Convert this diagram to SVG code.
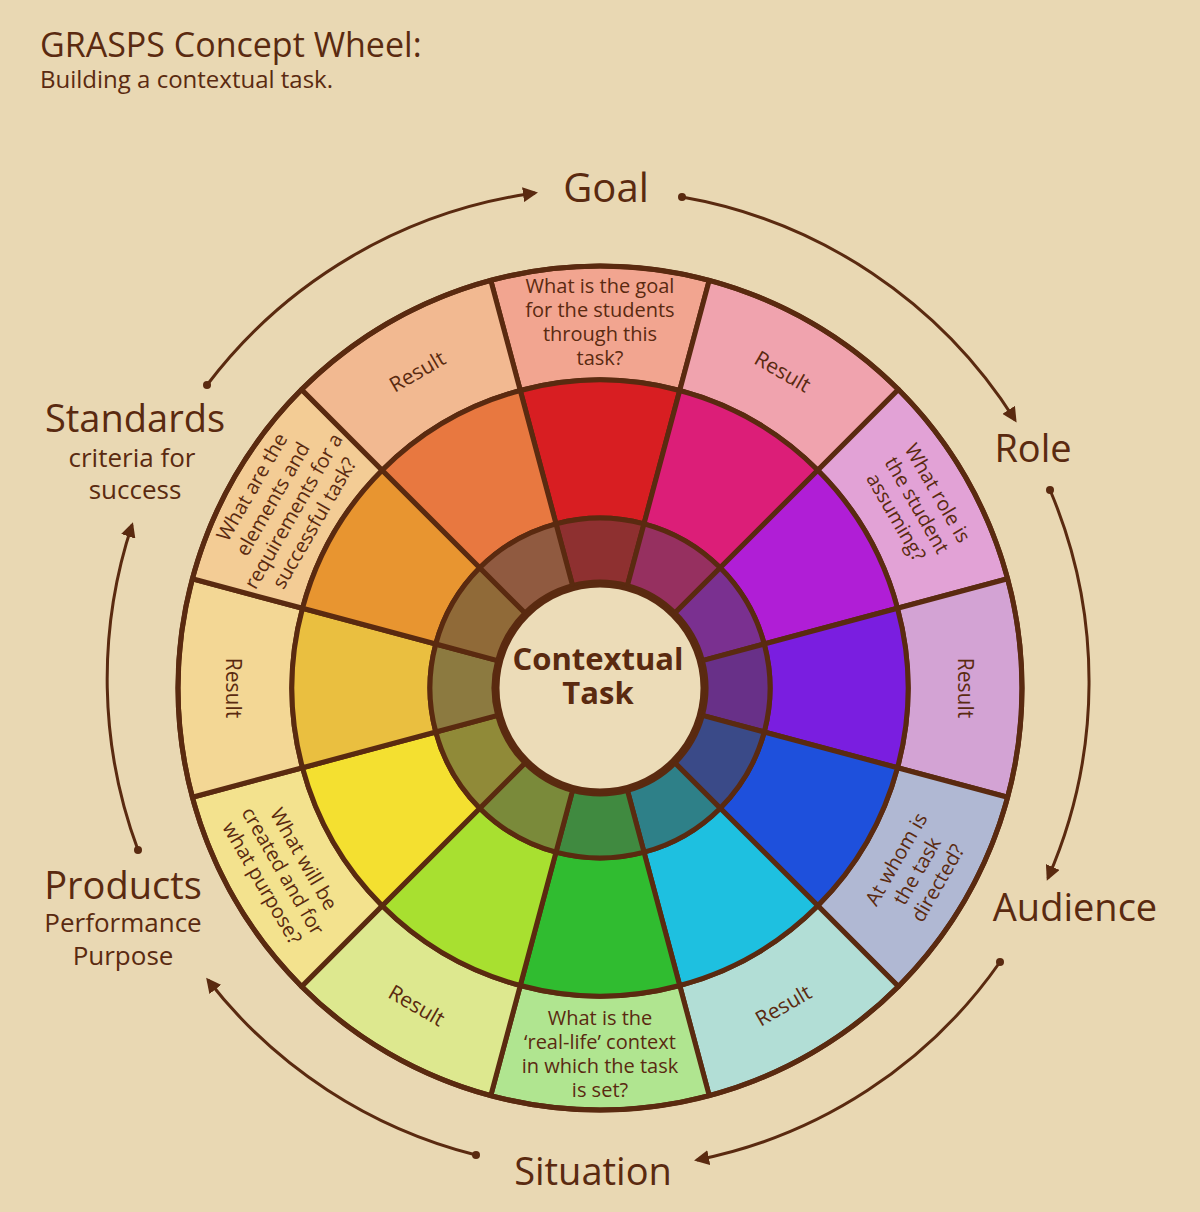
<svg xmlns="http://www.w3.org/2000/svg" xmlns:xlink="http://www.w3.org/1999/xlink" width="1200" height="1212" viewBox="0 0 1200 1212">
<style>
.s{stroke:#5a2a10;stroke-width:5;stroke-linejoin:round}
text{font-family:"Open Sans","Liberation Sans",sans-serif;fill:#5a2a10;text-anchor:middle}
.q{font-size:20px}
.r{font-size:21px}
.big{font-size:38px}
.sub{font-size:26px}
.arc{fill:none;stroke:#5a2a10;stroke-width:3;marker-end:url(#ah)}
</style>
<defs>
<marker id="ah" viewBox="0 0 10 10" refX="8" refY="5" markerWidth="5" markerHeight="5" orient="auto"><path d="M0,0 L10,5 L0,10 Z" fill="#5a2a10"/></marker>
<path id="o" class="s" d="M -109.22 -407.62 A 422 422 0 0 1 109.22 -407.62 L 79.72 -297.51 A 308 308 0 0 0 -79.72 -297.51 Z"/>
<path id="m" class="s" d="M -79.72 -297.51 A 308 308 0 0 1 79.72 -297.51 L 44.0 -164.21 A 170 170 0 0 0 -44.0 -164.21 Z"/>
<path id="i" class="s" d="M -44.0 -164.21 A 170 170 0 0 1 44.0 -164.21 L 27.43 -102.39 A 106 106 0 0 0 -27.43 -102.39 Z"/>
</defs>
<rect width="1200" height="1212" fill="#e9d8b3"/>
<text x="40" y="57" style="font-size:34px;text-anchor:start">GRASPS Concept Wheel:</text>
<text x="40" y="88" style="font-size:24px;text-anchor:start">Building a contextual task.</text>
<g id="wheel" transform="translate(600,688)">
<use xlink:href="#o" fill="#f2a590"/>
<use xlink:href="#o" fill="#f0a3ae" transform="rotate(30)"/>
<use xlink:href="#o" fill="#e2a2d6" transform="rotate(60)"/>
<use xlink:href="#o" fill="#d3a3d4" transform="rotate(90)"/>
<use xlink:href="#o" fill="#b0b8d3" transform="rotate(120)"/>
<use xlink:href="#o" fill="#b2ded6" transform="rotate(150)"/>
<use xlink:href="#o" fill="#b0e590" transform="rotate(180)"/>
<use xlink:href="#o" fill="#dde88f" transform="rotate(210)"/>
<use xlink:href="#o" fill="#f3e28e" transform="rotate(240)"/>
<use xlink:href="#o" fill="#f3d795" transform="rotate(270)"/>
<use xlink:href="#o" fill="#f3cc95" transform="rotate(300)"/>
<use xlink:href="#o" fill="#f2b991" transform="rotate(330)"/>
<use xlink:href="#m" fill="#d81e22"/>
<use xlink:href="#m" fill="#dc1e78" transform="rotate(30)"/>
<use xlink:href="#m" fill="#b01ed6" transform="rotate(60)"/>
<use xlink:href="#m" fill="#7a1ee0" transform="rotate(90)"/>
<use xlink:href="#m" fill="#1e50dc" transform="rotate(120)"/>
<use xlink:href="#m" fill="#1ec0e0" transform="rotate(150)"/>
<use xlink:href="#m" fill="#30bc30" transform="rotate(180)"/>
<use xlink:href="#m" fill="#a8e030" transform="rotate(210)"/>
<use xlink:href="#m" fill="#f4e030" transform="rotate(240)"/>
<use xlink:href="#m" fill="#eabf40" transform="rotate(270)"/>
<use xlink:href="#m" fill="#e89530" transform="rotate(300)"/>
<use xlink:href="#m" fill="#e87840" transform="rotate(330)"/>
<use xlink:href="#i" fill="#8e3030"/>
<use xlink:href="#i" fill="#963060" transform="rotate(30)"/>
<use xlink:href="#i" fill="#7a3090" transform="rotate(60)"/>
<use xlink:href="#i" fill="#683088" transform="rotate(90)"/>
<use xlink:href="#i" fill="#3a4a88" transform="rotate(120)"/>
<use xlink:href="#i" fill="#2e8088" transform="rotate(150)"/>
<use xlink:href="#i" fill="#408a40" transform="rotate(180)"/>
<use xlink:href="#i" fill="#7a8a3a" transform="rotate(210)"/>
<use xlink:href="#i" fill="#908a38" transform="rotate(240)"/>
<use xlink:href="#i" fill="#8c7a40" transform="rotate(270)"/>
<use xlink:href="#i" fill="#906a38" transform="rotate(300)"/>
<use xlink:href="#i" fill="#905a40" transform="rotate(330)"/>
<circle r="422" fill="none" class="s"/>
<circle r="103" fill="#ecdcb8" class="s"/>
</g>
<g id="center"><text x="598" y="670" style="font-size:31px;font-weight:bold">Contextual</text><text x="598" y="704" style="font-size:31px;font-weight:bold">Task</text></g>
<g id="labels">
<text class="q" transform="translate(600,688) rotate(0) translate(0,-366)"><tspan x="0" y="-29">What is the goal</tspan><tspan x="0" y="-5">for the students</tspan><tspan x="0" y="19">through this</tspan><tspan x="0" y="43">task?</tspan></text>
<text class="r" transform="translate(600,688) rotate(30) translate(0,-366)"><tspan x="0" y="8">Result</tspan></text>
<text class="q" transform="translate(600,688) rotate(60) translate(0,-366)"><tspan x="0" y="-17">What role is</tspan><tspan x="0" y="7">the student</tspan><tspan x="0" y="31">assuming?</tspan></text>
<text class="r" transform="translate(600,688) rotate(90) translate(0,-366)"><tspan x="0" y="8">Result</tspan></text>
<text class="q" transform="translate(600,688) rotate(120) translate(0,-366) rotate(180)"><tspan x="0" y="-17">At whom is</tspan><tspan x="0" y="7">the task</tspan><tspan x="0" y="31">directed?</tspan></text>
<text class="r" transform="translate(600,688) rotate(150) translate(0,-366) rotate(180)"><tspan x="0" y="8">Result</tspan></text>
<text class="q" transform="translate(600,688) rotate(180) translate(0,-366) rotate(180)"><tspan x="0" y="-29">What is the</tspan><tspan x="0" y="-5">‘real-life’ context</tspan><tspan x="0" y="19">in which the task</tspan><tspan x="0" y="43">is set?</tspan></text>
<text class="r" transform="translate(600,688) rotate(210) translate(0,-366) rotate(180)"><tspan x="0" y="8">Result</tspan></text>
<text class="q" transform="translate(600,688) rotate(240) translate(0,-366) rotate(180)"><tspan x="0" y="-17">What will be</tspan><tspan x="0" y="7">created and for</tspan><tspan x="0" y="31">what purpose?</tspan></text>
<text class="r" transform="translate(600,688) rotate(270) translate(0,-366) rotate(180)"><tspan x="0" y="8">Result</tspan></text>
<text class="q" transform="translate(600,688) rotate(300) translate(0,-366)"><tspan x="0" y="-29">What are the</tspan><tspan x="0" y="-5">elements and</tspan><tspan x="0" y="19">requirements for a</tspan><tspan x="0" y="43">successful task?</tspan></text>
<text class="r" transform="translate(600,688) rotate(330) translate(0,-366)"><tspan x="0" y="8">Result</tspan></text>
</g>
<g id="connectors">
<path class="arc" d="M207,385 A496 496 0 0 1 535,193"/>
<path class="arc" d="M682,197 A494 494 0 0 1 1015,420"/>
<path class="arc" d="M1050,490 A490 490 0 0 1 1048,878"/>
<path class="arc" d="M1000,962 A485 485 0 0 1 697,1160"/>
<path class="arc" d="M476,1155 A490 490 0 0 1 208,980"/>
<path class="arc" d="M138,850 A490 490 0 0 1 132,525"/>
<g fill="#5a2a10"><circle cx="207" cy="385" r="4"/><circle cx="682" cy="197" r="4"/><circle cx="1050" cy="490" r="4"/><circle cx="1000" cy="962" r="4"/><circle cx="476" cy="1155" r="4"/><circle cx="138" cy="850" r="4"/></g>
</g>
<g id="goal"><text class="big" x="606" y="202" style="font-size:40px">Goal</text></g>
<g id="role"><text class="big" x="1033" y="462">Role</text></g>
<g id="audience"><text class="big" x="1075" y="921">Audience</text></g>
<g id="situation"><text class="big" x="593" y="1185">Situation</text></g>
<g id="products"><text class="big" x="123" y="899">Products</text><text class="sub" x="123" y="932">Performance</text><text class="sub" x="123" y="965">Purpose</text></g>
<g id="standards"><text class="big" x="135" y="432">Standards</text><text class="sub" x="132" y="467">criteria for</text><text class="sub" x="135" y="499">success</text></g>
</svg>
